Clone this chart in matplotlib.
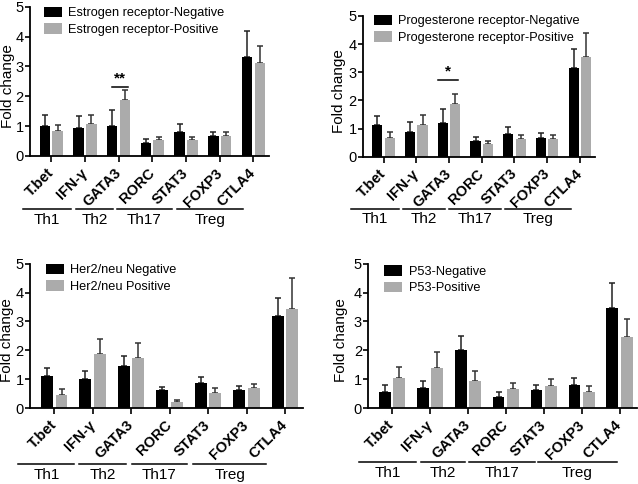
import numpy as np
import matplotlib
matplotlib.use("Agg")
import matplotlib.pyplot as plt
import matplotlib.transforms as mtransforms

plt.rcParams['font.family'] = ['Liberation Sans', 'DejaVu Sans']

genes = ["T.bet", "IFN-\u03b3", "GATA3", "RORC", "STAT3", "FOXP3", "CTLA4"]
groups = ["Th1", "Th2", "Th17", "Treg"]

# panel 1: estrogen receptor
er_neg = [0.99, 0.93, 1.01, 0.43, 0.81, 0.65, 3.31]
er_neg_err = [0.37, 0.40, 0.54, 0.13, 0.27, 0.16, 0.88]
er_pos = [0.85, 1.06, 1.88, 0.53, 0.53, 0.67, 3.12]
er_pos_err = [0.20, 0.30, 0.32, 0.10, 0.10, 0.12, 0.56]

# panel 2: progesterone receptor
pr_neg = [1.13, 0.89, 1.20, 0.57, 0.82, 0.68, 3.16]
pr_neg_err = [0.32, 0.34, 0.49, 0.14, 0.25, 0.17, 0.65]
pr_pos = [0.66, 1.14, 1.87, 0.45, 0.65, 0.65, 3.53]
pr_pos_err = [0.22, 0.36, 0.36, 0.10, 0.12, 0.12, 0.88]

# panel 3: her2/neu
her_neg = [1.12, 1.02, 1.46, 0.63, 0.87, 0.64, 3.20]
her_neg_err = [0.26, 0.26, 0.36, 0.11, 0.19, 0.13, 0.62]
her_pos = [0.45, 1.86, 1.74, 0.22, 0.52, 0.70, 3.43]
her_pos_err = [0.20, 0.53, 0.50, 0.05, 0.18, 0.12, 1.08]

# panel 4: p53
p53_neg = [0.54, 0.69, 2.01, 0.37, 0.64, 0.79, 3.45]
p53_neg_err = [0.25, 0.23, 0.47, 0.17, 0.16, 0.26, 0.87]
p53_pos = [1.04, 1.39, 0.94, 0.66, 0.75, 0.57, 2.47]
p53_pos_err = [0.37, 0.56, 0.35, 0.21, 0.27, 0.20, 0.61]

GREY = "#ababab"


def draw_panel(rect, neg, neg_err, pos, pos_err, labels, leg_xy, ylab_x,
               group_spans, group_y, sig=None):
    ax = fig.add_axes(rect)
    x = np.arange(len(genes))
    w = 0.31
    off = 0.19
    ax.bar(x - off, neg, w, color="black", label=labels[0], zorder=2)
    ax.bar(x + off, pos, w, color=GREY, label=labels[1], zorder=2)
    ax.errorbar(x - off, neg, yerr=[np.zeros(len(neg)), neg_err], fmt="none",
                ecolor="#222222", elinewidth=1.1, capsize=2.5, capthick=1.1, zorder=1)
    ax.errorbar(x + off, pos, yerr=[np.zeros(len(pos)), pos_err], fmt="none",
                ecolor="#333333", elinewidth=1.1, capsize=2.5, capthick=1.1, zorder=1)

    ax.set_xlim(-0.63, 6.47)
    ax.set_ylim(0, 5)
    ax.set_yticks([0, 1, 2, 3, 4, 5])
    ax.tick_params(axis="y", labelsize=10.5, length=3.5, width=1.2, pad=1)
    ax.tick_params(axis="x", length=4, width=1.2, pad=2)
    ax.set_xticks(x)
    ax.set_xticklabels(genes, rotation=45, ha="right", va="center",
                       rotation_mode="anchor", fontsize=10.5, fontweight="bold")
    for lbl in ax.get_xticklabels():
        lbl.set_y(-0.045)
    ax.set_ylabel("Fold change", fontsize=11)
    ax.yaxis.set_label_coords(ylab_x, 0.47)
    for s in ["top", "right"]:
        ax.spines[s].set_visible(False)
    for s in ["left", "bottom"]:
        ax.spines[s].set_linewidth(1.3)

    ax.legend(loc="upper left", bbox_to_anchor=leg_xy, frameon=False,
              fontsize=9.2, handlelength=1.4, handleheight=0.9,
              handletextpad=0.5, labelspacing=0.3, borderpad=0, borderaxespad=0)

    trans = mtransforms.blended_transform_factory(ax.transData, ax.transAxes)
    for name, (a, b) in zip(groups, group_spans):
        ax.plot([a, b], [group_y, group_y], color="black", lw=1.1,
                transform=trans, clip_on=False)
        ax.text((a + b) / 2, group_y - 0.025, name, transform=trans,
                ha="center", va="top", fontsize=11)

    if sig is not None:
        text, x0, x1, y = sig
        ax.plot([x0, x1], [y, y], color="black", lw=1.1)
        ax.text((x0 + x1) / 2, y + 0.05, text, ha="center", va="bottom",
                fontsize=11, fontweight="bold")
    return ax


fig = plt.figure(figsize=(6.38, 4.84), dpi=100)

draw_panel([0.047, 0.678, 0.375, 0.308], er_neg, er_neg_err, er_pos, er_pos_err,
           ["Estrogen receptor-Negative", "Estrogen receptor-Positive"],
           (0.059, 1.0), -0.062,
           [(-0.84, 0.6), (0.75, 1.82), (1.94, 3.58), (3.73, 5.7)], -0.356,
           sig=("**", 1.79, 2.27, 2.32))

draw_panel([0.569, 0.676, 0.364, 0.291], pr_neg, pr_neg_err, pr_pos, pr_pos_err,
           ["Progesterone receptor-Negative", "Progesterone receptor-Positive"],
           (0.047, 1.01), -0.072,
           [(-1.0, 0.46), (0.58, 1.88), (2.0, 3.6), (3.72, 5.72)], -0.37,
           sig=("*", 1.66, 2.28, 2.73))

draw_panel([0.047, 0.157, 0.428, 0.298], her_neg, her_neg_err, her_pos, her_pos_err,
           ["Her2/neu Negative", "Her2/neu Positive"],
           (0.059, 1.0), -0.06,
           [(-0.93, 0.52), (0.65, 1.86), (2.01, 3.46), (3.62, 5.5)], -0.39)

draw_panel([0.577, 0.157, 0.422, 0.298], p53_neg, p53_neg_err, p53_pos, p53_pos_err,
           ["P53-Negative", "P53-Positive"],
           (0.06, 0.99), -0.076,
           [(-0.87, 0.63), (0.77, 1.93), (2.04, 3.76), (3.86, 5.92)], -0.375)

fig.savefig("out.png", dpi=100)
